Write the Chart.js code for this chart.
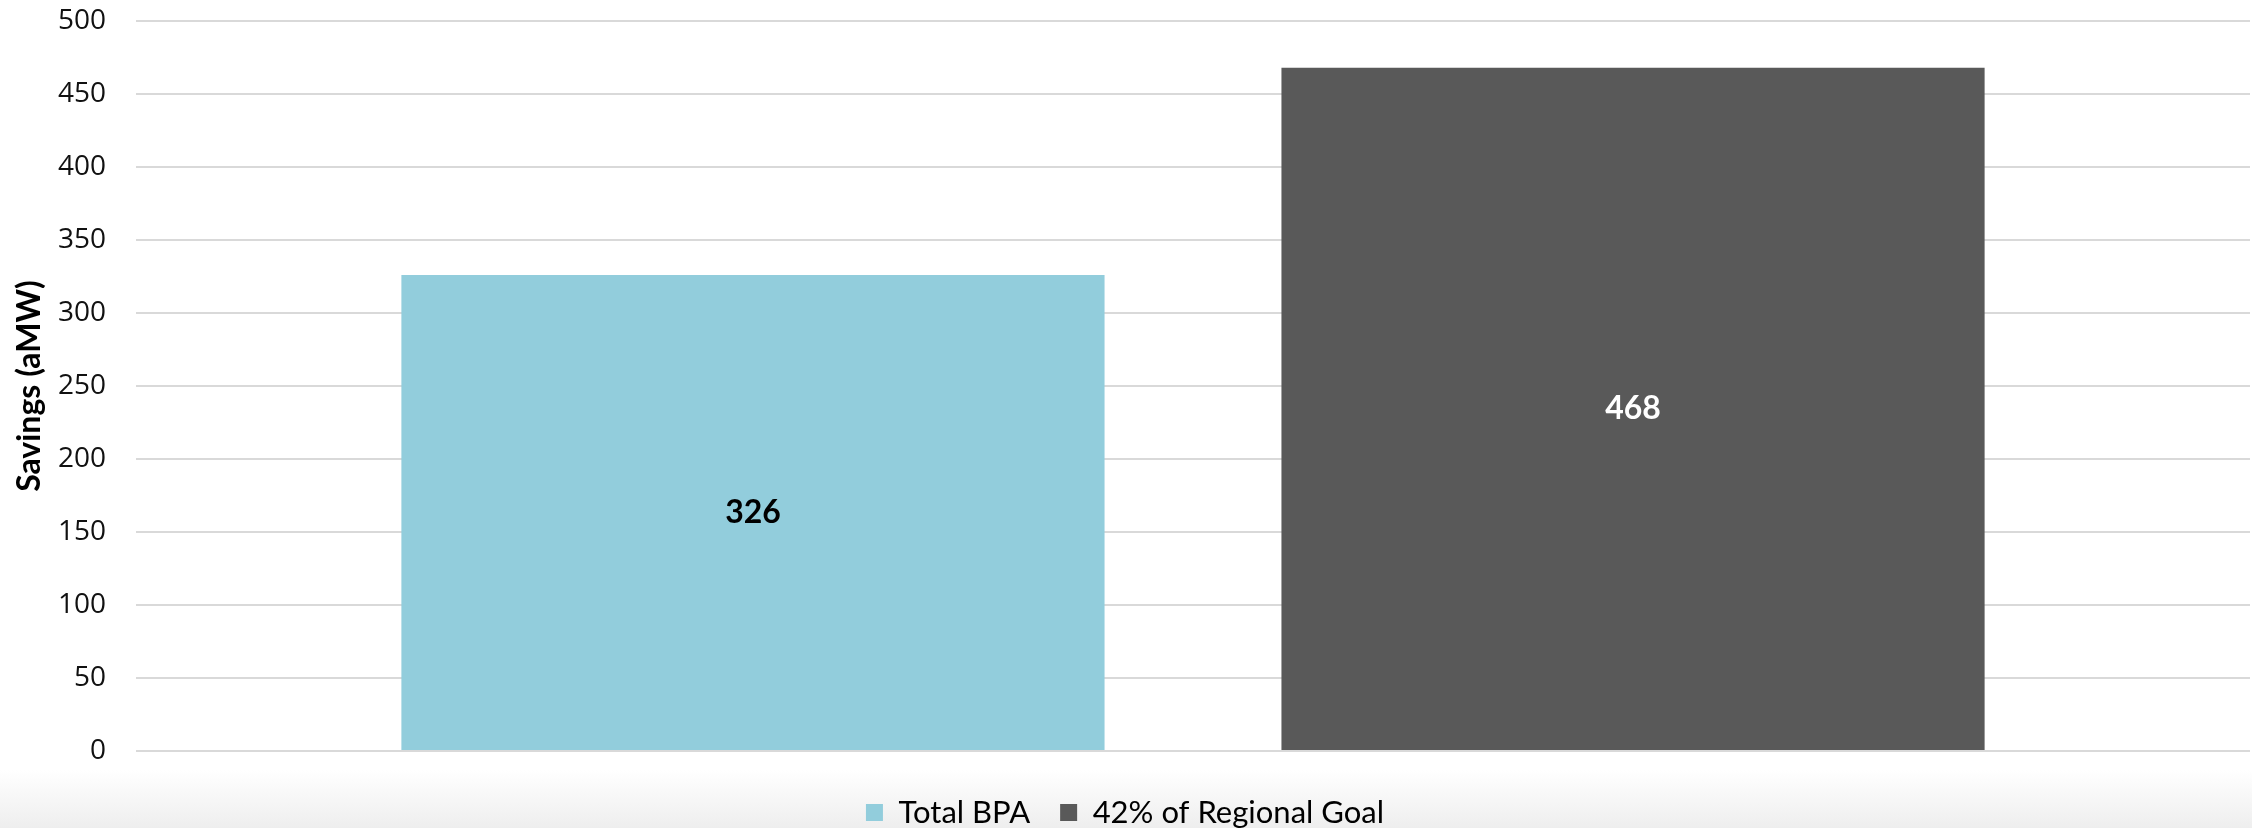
<!DOCTYPE html>
<html>
<head>
<meta charset="utf-8">
<script src="https://cdn.jsdelivr.net/npm/chart.js@4"></script>
<style>
  html, body { margin: 0; padding: 0; }
  body {
    width: 2252px; height: 828px;
    background: linear-gradient(to bottom, #ffffff 0px, #ffffff 770px, #eeeeee 828px);
  }
  #wrap { width: 2252px; height: 828px; }
</style>
</head>
<body>
<div id="wrap"><canvas id="myChart" width="2252" height="828"></canvas></div>
<script>
const categories = [''];
const seriesNames = ['Total BPA', '42% of Regional Goal'];
const totalBPA = [326];
const regionalGoal = [468];
const seriesColors = ['#92cddc', '#595959'];
const labelColors = ['#000000', '#ffffff'];

const calibri = 'Lato, "Open Sans", sans-serif';

// draws the value in the middle of each bar
const barValues = {
    id: 'barValues',
    afterDatasetsDraw(chart) {
        const ctx = chart.ctx;
        ctx.save();
        ctx.font = 'bold 32px ' + calibri;
        ctx.textAlign = 'center';
        ctx.textBaseline = 'middle';
        chart.data.datasets.forEach((ds, i) => {
            chart.getDatasetMeta(i).data.forEach((bar, j) => {
                ctx.fillStyle = labelColors[i];
                ctx.fillText(ds.data[j], bar.x, (bar.y + bar.base) / 2);
            });
        });
        ctx.restore();
    }
};

const data = {
    labels: categories,
    datasets: [{
        label: seriesNames[0],
        data: totalBPA,
        backgroundColor: seriesColors[0],
        borderWidth: 0
    }, {
        label: seriesNames[1],
        data: regionalGoal,
        backgroundColor: seriesColors[1],
        borderWidth: 0
    }]
};

const options = {
    responsive: false,
    animation: false,
    categoryPercentage: 0.8326,
    barPercentage: 0.799,
    layout: {
        padding: { top: 21, right: 2, bottom: -10, left: 0 }
    },
    plugins: {
        tooltip: { enabled: false },
        legend: {
            position: 'bottom',
            labels: {
                boxWidth: 17,
                boxHeight: 17,
                padding: 30,
                color: '#000000',
                font: { family: calibri, size: 31 }
            }
        }
    },
    scales: {
        x: {
            grid: { display: false },
            border: { display: false },
            ticks: { display: false },
            afterFit: s => { s.height = 16; }
        },
        y: {
            min: 0,
            max: 500,
            ticks: {
                stepSize: 50,
                padding: 30,
                color: '#111111',
                font: { family: '"Open Sans", sans-serif', size: 28 }
            },
            grid: { color: '#d9d9d9', lineWidth: 2, drawTicks: false },
            border: { display: false },
            title: {
                display: true,
                text: 'Savings (aMW)',
                color: '#000000',
                padding: { top: 10, bottom: 0 },
                font: { family: calibri, size: 32, weight: 'bold' }
            },
            afterFit: s => {
                s.width = 136;
                // tick padding would otherwise push the plot down
                s.paddingTop = 0;
                s.paddingBottom = 0;
            }
        }
    }
};

const config = {
    type: 'bar',
    data,
    options,
    plugins: [barValues]
};

var myChart = new Chart(document.getElementById('myChart'), config);
</script>
</body>
</html>
